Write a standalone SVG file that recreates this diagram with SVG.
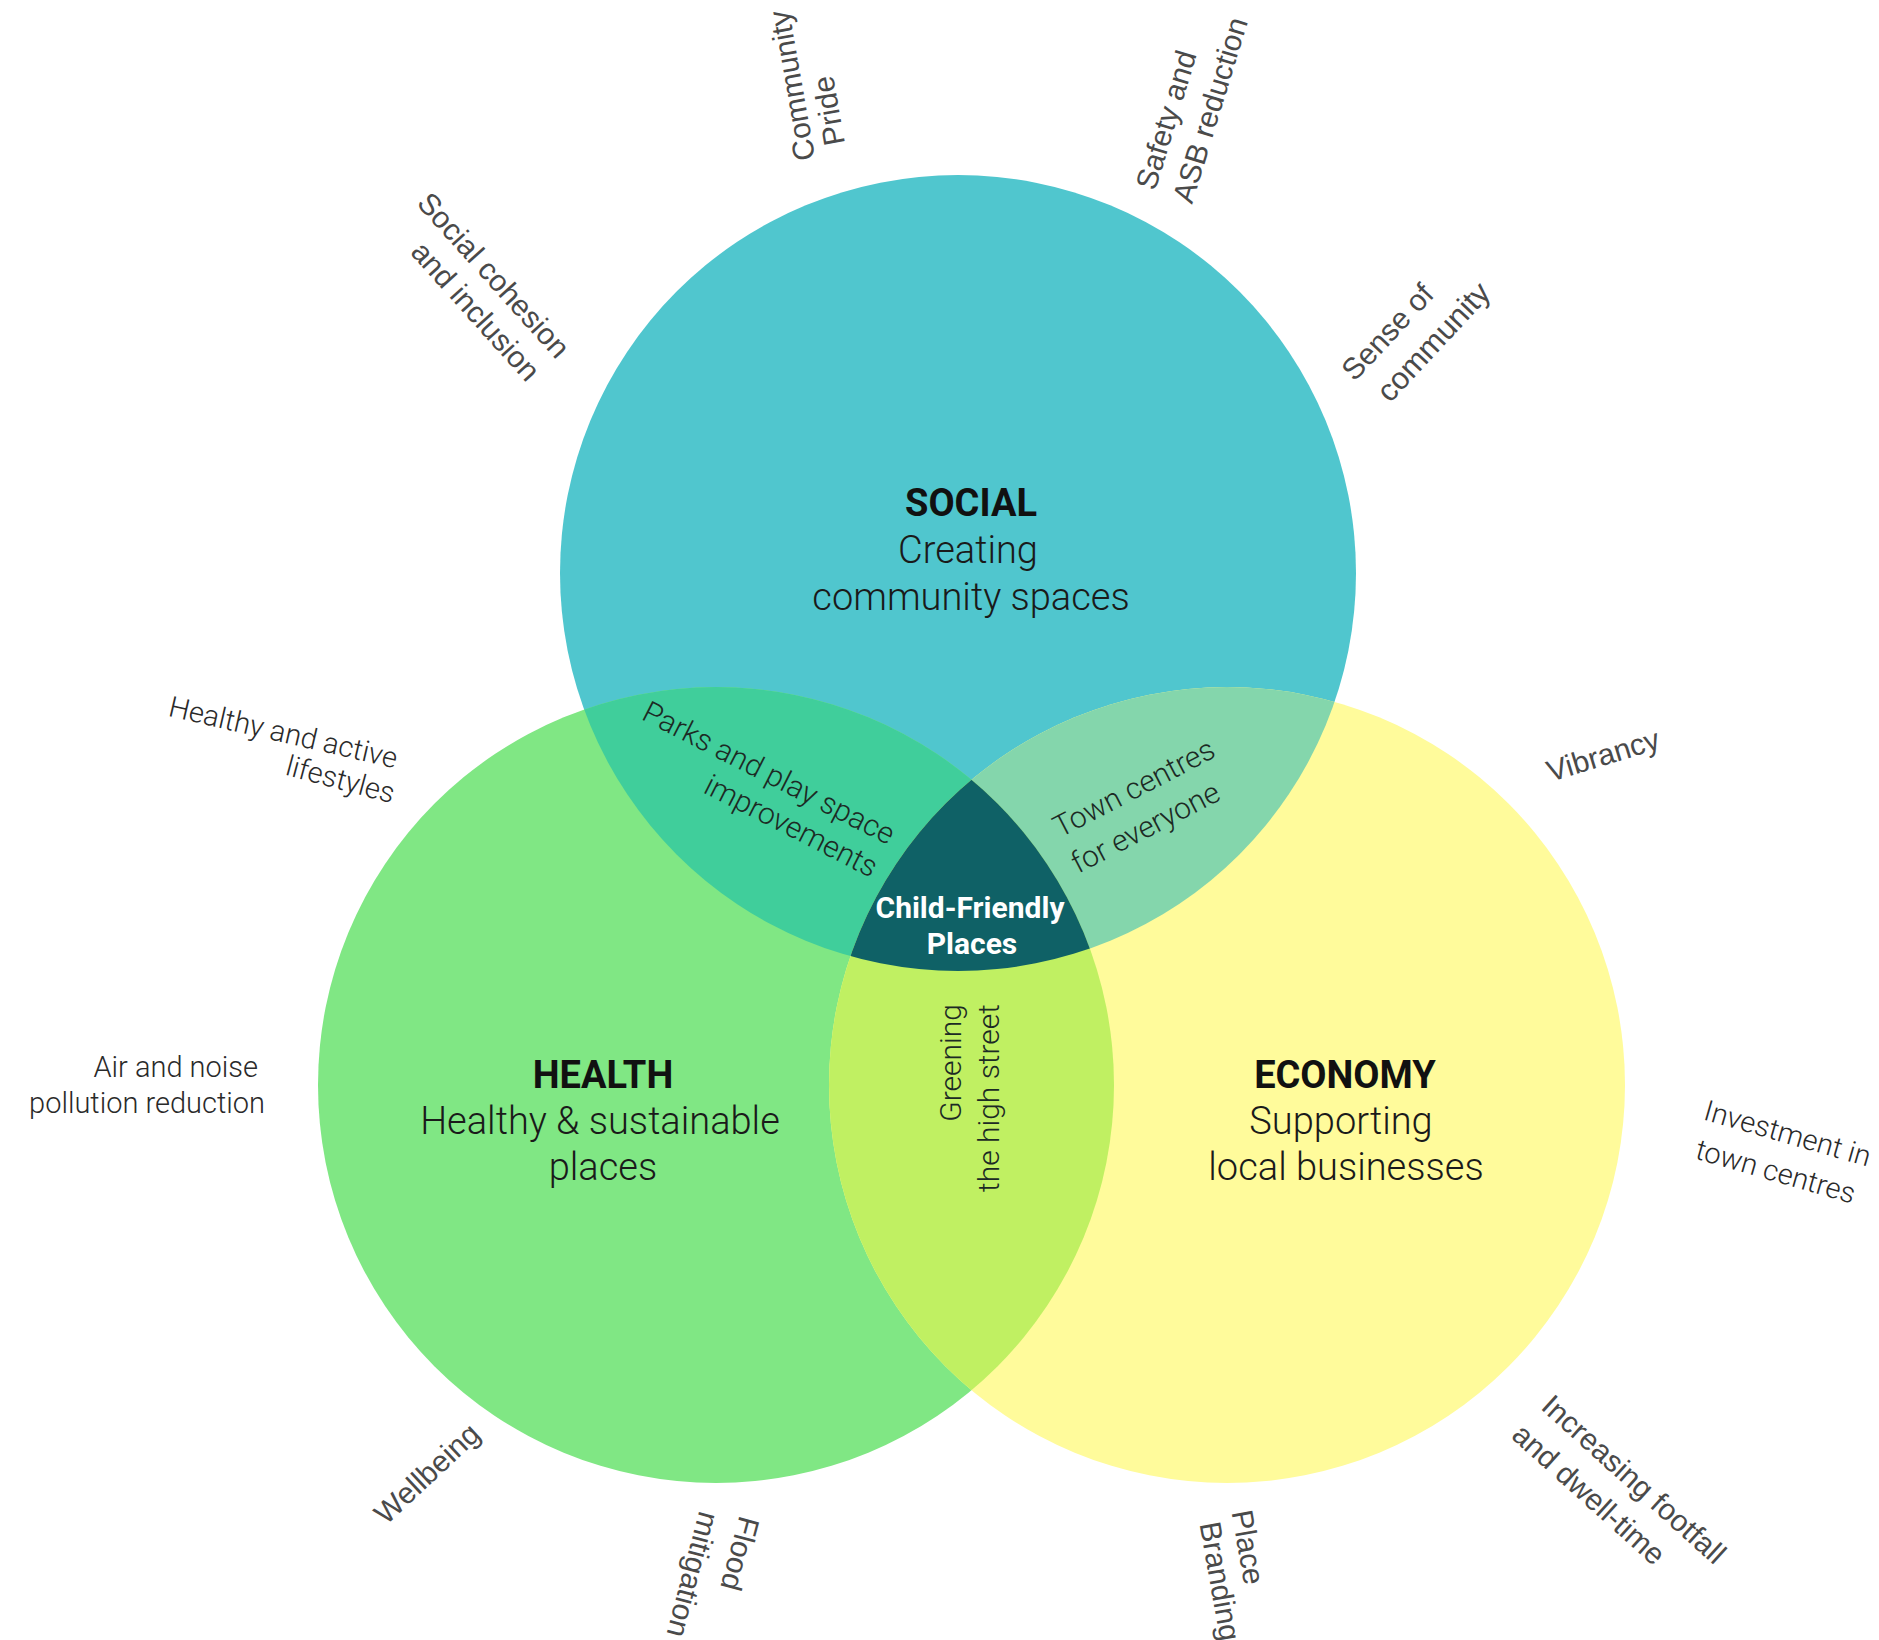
<svg xmlns="http://www.w3.org/2000/svg" width="1879" height="1640" viewBox="0 0 1879 1640">
<style>
.title{font-family:Roboto,"Liberation Sans",sans-serif;font-weight:700;font-size:38px;fill:#111;text-anchor:middle}
.sub{font-family:Roboto,"Liberation Sans",sans-serif;font-weight:300;font-size:38px;fill:#1a1a1a;text-anchor:middle}
.lens{font-family:Roboto,"Liberation Sans",sans-serif;font-weight:300;font-size:30px;fill:#1c2a24}
.center{font-family:Roboto,"Liberation Sans",sans-serif;font-weight:700;font-size:30px;fill:#ffffff;text-anchor:middle}
.out{font-family:"Liberation Sans",Arial,sans-serif;font-size:30px;fill:#4a4a4a;text-anchor:middle}
.outr{font-family:Roboto,"Liberation Sans",sans-serif;font-weight:300;font-size:29px;fill:#2a2a2a}
</style>
<defs>
<clipPath id="clipS"><circle cx="958" cy="573" r="398"/></clipPath>
<clipPath id="clipH"><circle cx="716" cy="1085" r="398"/></clipPath>
</defs>
<rect width="1879" height="1640" fill="#ffffff"/>
<g id="social"><circle cx="958" cy="573" r="398" fill="#50C6CE"/></g>
<g id="health"><circle cx="716" cy="1085" r="398" fill="#80E784"/></g>
<g id="economy"><circle cx="1227" cy="1085" r="398" fill="#FFFB9B"/></g>
<g id="overlaps">
<circle id="social-health" cx="716" cy="1085" r="398" fill="#40CE9B" clip-path="url(#clipS)"/>
<circle id="social-economy" cx="1227" cy="1085" r="398" fill="#84D6AC" clip-path="url(#clipS)"/>
<circle id="health-economy" cx="1227" cy="1085" r="398" fill="#C0F062" clip-path="url(#clipH)"/>
<g id="center-region" clip-path="url(#clipH)"><circle cx="1227" cy="1085" r="398" fill="#0F6166" clip-path="url(#clipS)"/></g>
</g>
<g id="social-text">
<text class="title" x="971" y="516">SOCIAL</text>
<text class="sub" x="968" y="563">Creating</text>
<text class="sub" x="971" y="610">community spaces</text>
</g>
<g id="health-text">
<text class="title" x="603" y="1088">HEALTH</text>
<text class="sub" x="600" y="1134">Healthy &amp; sustainable</text>
<text class="sub" x="603" y="1180">places</text>
</g>
<g id="economy-text">
<text class="title" x="1345" y="1088">ECONOMY</text>
<text class="sub" x="1341" y="1134">Supporting</text>
<text class="sub" x="1346" y="1180">local businesses</text>
</g>
<g id="lens-parks">
<text class="lens" text-anchor="end" transform="translate(888,845) rotate(27)">Parks and play space</text>
<text class="lens" text-anchor="end" transform="translate(871,878) rotate(27)">improvements</text>
</g>
<g id="lens-town">
<text class="lens" text-anchor="start" transform="translate(1060,838) rotate(-27.5)">Town centres</text>
<text class="lens" text-anchor="start" transform="translate(1078,874) rotate(-27.5)">for everyone</text>
</g>
<g id="lens-greening">
<text class="lens" text-anchor="end" transform="translate(961,1004) rotate(-90)">Greening</text>
<text class="lens" text-anchor="end" transform="translate(999,1004) rotate(-90)">the high street</text>
</g>
<g id="child-friendly">
<text class="center" x="970" y="918">Child-Friendly</text>
<text class="center" x="972" y="954">Places</text>
</g>
<g id="label-community-pride">
<text class="out" transform="translate(802,84) rotate(-100)">Community</text>
<text class="out" transform="translate(839,109) rotate(-100)">Pride</text>
</g>
<g id="label-safety">
<text class="out" transform="translate(1176,123) rotate(-73)">Safety and</text>
<text class="out" transform="translate(1220,113) rotate(-73)">ASB reduction</text>
</g>
<g id="label-sense">
<text class="out" transform="translate(1395,339) rotate(-47)">Sense of</text>
<text class="out" transform="translate(1441,349) rotate(-47)" style="font-size:31px">community</text>
</g>
<g id="label-social-cohesion">
<text class="out" transform="translate(486,282) rotate(48)">Social cohesion</text>
<text class="out" transform="translate(468,318) rotate(48)">and inclusion</text>
</g>
<g id="label-healthy-active">
<text class="outr" text-anchor="middle" transform="translate(281,742) rotate(13)">Healthy and active</text>
<text class="outr" text-anchor="middle" transform="translate(338,789) rotate(15)">lifestyles</text>
</g>
<g id="label-air">
<text class="outr" text-anchor="end" x="258" y="1077">Air and noise</text>
<text class="outr" text-anchor="end" x="265" y="1113">pollution reduction</text>
</g>
<g id="label-vibrancy">
<text class="out" transform="translate(1606,765) rotate(-17)">Vibrancy</text>
</g>
<g id="label-investment">
<text class="outr" text-anchor="middle" transform="translate(1785,1143) rotate(16)">Investment in</text>
<text class="outr" text-anchor="middle" transform="translate(1773,1181) rotate(16)">town centres</text>
</g>
<g id="label-footfall">
<text class="out" transform="translate(1627,1487) rotate(42)">Increasing footfall</text>
<text class="out" transform="translate(1582,1502) rotate(42)">and dwell-time</text>
</g>
<g id="label-place-branding">
<text class="out" transform="translate(1238,1549) rotate(80)">Place</text>
<text class="out" transform="translate(1210,1583) rotate(80)">Branding</text>
</g>
<g id="label-flood">
<text class="out" transform="translate(730,1551) rotate(105)">Flood</text>
<text class="out" transform="translate(683,1572) rotate(105)">mitigation</text>
</g>
<g id="label-wellbeing">
<text class="out" transform="translate(434,1481) rotate(-43)">Wellbeing</text>
</g>
</svg>
